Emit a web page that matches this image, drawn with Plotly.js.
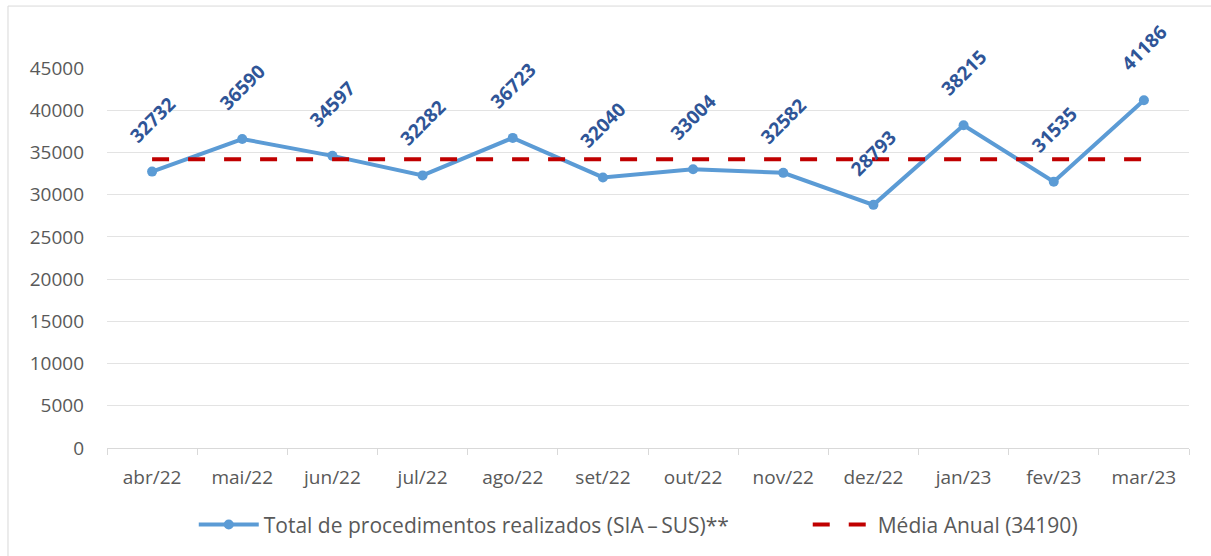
<!DOCTYPE html>
<html>
<head>
<meta charset="utf-8">
<script src="https://cdn.plot.ly/plotly-3.0.1.min.js"></script>
<style>html,body{margin:0;padding:0;background:#fff;}#chart{width:1211px;height:556px;}</style>
</head>
<body>
<div id="chart"></div>
<script>
const months = ["abr/22","mai/22","jun/22","jul/22","ago/22","set/22","out/22","nov/22","dez/22","jan/23","fev/23","mar/23"];
const totals = [32732,36590,34597,32282,36723,32040,33004,32582,28793,38215,31535,41186];
const mediaAnual = 34190;
const seriesName = "Total de procedimentos realizados (SIA\u2009\u2013\u2009SUS)**";
const meanName = "Média Anual (34190)";
const yTicks = [0,5000,10000,15000,20000,25000,30000,35000,40000,45000];

const FONT = "'Open Sans', 'Noto Sans', sans-serif";

const traces = [
  {
    x: months, y: totals, name: seriesName, type: "scatter", mode: "lines+markers",
    line: {color: "#5B9BD5", width: 4},
    marker: {color: "#5B9BD5", size: 10, symbol: "circle"},
    cliponaxis: false, legend: "legend"
  },
  {
    x: months, y: months.map(() => mediaAnual), name: meanName, type: "scatter", mode: "lines",
    line: {color: "#C00000", width: 4, dash: "17px,19px"}, legend: "legend2"
  }
];

const annotations = months.map((m, i) => ({
  x: m, y: totals[i], xref: "x", yref: "y",
  text: String(totals[i]), showarrow: false, textangle: -45,
  yshift: 52, font: {family: FONT, size: 19, color: "#2F5597", weight: 700}
}));

const legendFont = {family: FONT, size: 21, color: "#595959"};

const layout = {
  width: 1211, height: 556,
  margin: {l: 107, r: 22, t: 68, b: 108},
  paper_bgcolor: "#ffffff", plot_bgcolor: "#ffffff",
  font: {family: FONT, color: "#595959", size: 19},
  showlegend: true,
  legend: {
    orientation: "h", xref: "container", yref: "container",
    x: 0.160, xanchor: "left", y: 0.056, yanchor: "middle", itemwidth: 60,
    font: legendFont, bgcolor: "rgba(0,0,0,0)"
  },
  legend2: {
    orientation: "h", xref: "container", yref: "container",
    x: 0.667, xanchor: "left", y: 0.056, yanchor: "middle", itemwidth: 60,
    font: legendFont, bgcolor: "rgba(0,0,0,0)"
  },
  xaxis: {
    type: "category", showgrid: false, showline: true, linecolor: "#D9D9D9", linewidth: 1,
    ticks: "outside", tickson: "boundaries", ticklen: 6, tickcolor: "#D9D9D9",
    ticklabelstandoff: 12,
    tickfont: {family: FONT, size: 19, color: "#595959"}, zeroline: false,
    range: [-0.5, 11.5]
  },
  yaxis: {
    range: [0, 45000], tickvals: yTicks, ticktext: yTicks.map(String),
    showgrid: true, gridcolor: "#E3E3E3", gridwidth: 1, zeroline: false, showline: false,
    ticks: "", ticklabelstandoff: 22,
    tickfont: {family: FONT, size: 19, color: "#595959"}
  },
  annotations: annotations,
  shapes: [
    {type: "line", xref: "paper", yref: "paper", x0: -0.0915, x1: -0.0915, y0: -0.3, y1: 1.163, line: {color: "#D9D9D9", width: 1}},
    {type: "line", xref: "paper", yref: "paper", x0: -0.0915, x1: 1.03, y0: 1.163, y1: 1.163, line: {color: "#D9D9D9", width: 1}}
  ]
};

Plotly.newPlot("chart", traces, layout, {displayModeBar: false, staticPlot: true});
</script>
</body>
</html>
